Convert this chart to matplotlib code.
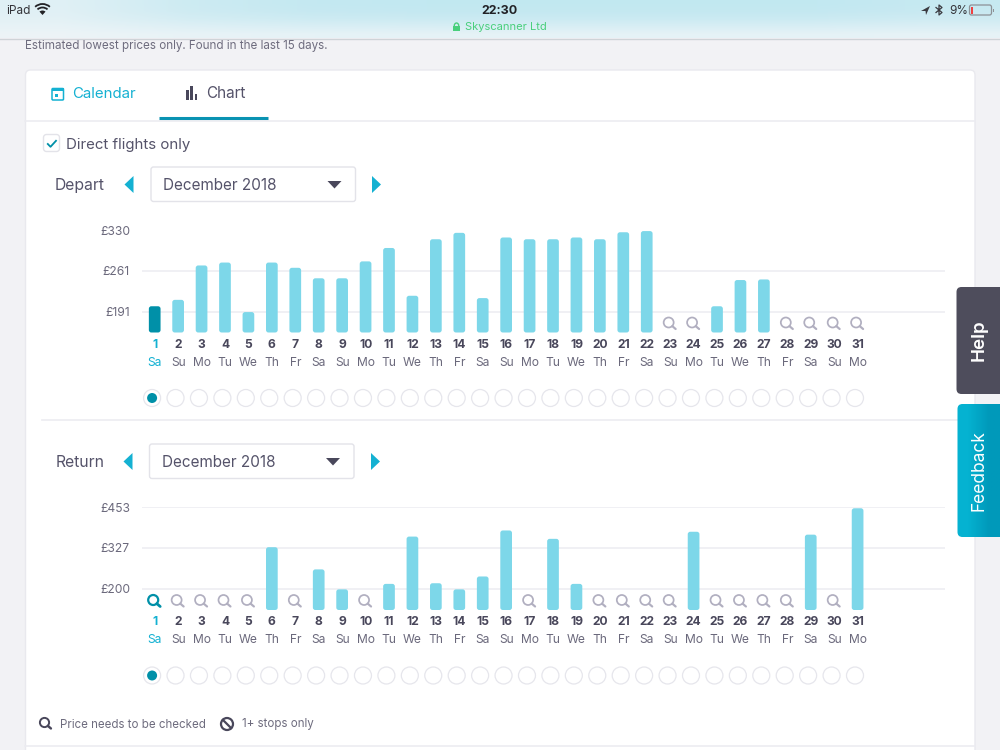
import numpy as np
import matplotlib
matplotlib.use('Agg')
import matplotlib.pyplot as plt
from matplotlib.patches import FancyBboxPatch, Circle, Arc, Polygon, Rectangle, Wedge

plt.rcParams['font.family'] = ['Inter', 'DejaVu Sans']

# --- Data ---
days = list(range(1, 32))
weekdays = ['Sa', 'Su', 'Mo', 'Tu', 'We', 'Th', 'Fr'] * 4 + ['Sa', 'Su', 'Mo']

# None means no price found, drawn as a magnifier
depart_prices = [200, 211, 270, 275, 190, 275, 266, 248, 248, 277, 300, 218, 315, 326, 214, 318,
                 315, 315, 318, 315, 327, 329, None, None, 200, 245, 246, None, None, None, None]
return_prices = [None, None, None, None, None, 329, None, 260, 198, None, 215, 362, 217, 198, 238, 381,
                 None, 355, 215, None, None, None, None, 377, None, None, None, None, 368, None, 450]

depart_ticks = [191, 261, 330]
return_ticks = [200, 327, 453]
legend_labels = ['Price needs to be checked', '1+ stops only']

# --- Colours ---
BG = '#f2f2f5'
CARD = '#ffffff'
LINE = '#ececf1'
INK = '#55536a'
DARK = '#49475b'
BAR = '#7dd7e9'
TEAL = '#0090a8'
SKY = '#14b1d2'
ICON = '#b1afc0'

fig = plt.figure(figsize=(10, 7.5), dpi=100, facecolor=BG)

# Page furniture is laid out in screen pixels on a full-size axes
ui = fig.add_axes([0, 0, 1, 1], zorder=0)
ui.set_xlim(0, 1000)
ui.set_ylim(750, 0)
ui.axis('off')


def label(x, y, s, size=10.5, color=INK, ha='left', **kw):
    ui.text(x, y + 1, s, fontsize=size, color=color, ha=ha, va='center', **kw)


def rbox(x0, y0, x1, y1, r=4, fc=CARD, ec='none', lw=1, z=1):
    box = FancyBboxPatch((x0, y0), x1 - x0, y1 - y0, boxstyle=f'round,pad=0,rounding_size={r}',
                         fc=fc, ec=ec, lw=lw, zorder=z)
    ui.add_patch(box)
    return box


def block(x0, y0, x1, y1, color, z=3):
    ui.add_patch(Rectangle((x0, y0), x1 - x0, y1 - y0, fc=color, ec='none', zorder=z))


def solid(points, color, z=3):
    ui.add_patch(Polygon(points, fc=color, ec='none', zorder=z))


def magnifier(x, y, color=ICON, lw=1.25, r=5):
    ui.add_patch(Circle((x, y), r, fc='none', ec=color, lw=lw, zorder=3))
    ui.plot([x + r * 0.72, x + r * 1.4], [y + r * 0.72, y + r * 1.3], color=color, lw=lw * 1.25,
            solid_capstyle='round', zorder=3)


# Status bar with its gradient, paler towards the left corner
centre = np.array([[0.76, 0.91, 0.945], [0.77, 0.91, 0.945], [0.80, 0.92, 0.95],
                   [0.85, 0.935, 0.96], [0.90, 0.95, 0.965]])
pale = np.array([0.94, 0.96, 0.97])
mix = np.array([0.65, 0.25, 0.05, 0.0, 0.0, 0.0, 0.0, 0.1])
band = np.stack([centre * (1 - m) + pale * m for m in mix], axis=1)
ui.imshow(band, extent=(0, 1000, 38, 0), aspect='auto', interpolation='bilinear', zorder=0)
ui.plot([0, 1000], [38.5, 38.5], color='#cfd3d7', lw=1, zorder=1)

label(6, 10, 'iPad', 8.5, '#333338')
for rad, wid in [(11, 1.3), (7.5, 1.3)]:
    ui.add_patch(Arc((42.5, 15), 2 * rad, 2 * rad, theta1=228, theta2=312, color='#222226', lw=wid, zorder=3))
ui.add_patch(Wedge((42.5, 15), 4.5, 228, 312, fc='#222226', ec='none', zorder=3))
label(500, 10, '22:30', 9, '#222226', ha='center', fontweight='bold')
label(505.5, 25.5, 'Skyscanner Ltd', 8, '#49cf7c', ha='center')
block(453, 26, 460, 31, '#49cf7c')
ui.add_patch(Arc((456.5, 26), 4.5, 6, theta1=180, theta2=360, color='#49cf7c', lw=1, zorder=3))
solid([(930, 6), (921, 11), (925.5, 11), (926, 15)], '#3a3a40')
ui.plot([936, 942, 939, 939, 942, 936], [7.5, 12.5, 15, 5, 7.5, 12.5], color='#3a3a40', lw=0.9, zorder=3)
label(949, 10, '9%', 8.5, '#333338')
rbox(969.5, 5, 991.5, 15, r=2, fc='none', ec='#8d9196', lw=0.9, z=3)
block(971, 6.5, 972.8, 13.5, '#f04040', z=4)
block(992.5, 8.5, 993.5, 11.5, '#8d9196')

label(25, 45.5, 'Estimated lowest prices only. Found in the last 15 days.', 8.4, '#6e6c7e')

# Card
rbox(25.5, 70, 975, 790, r=5, fc=CARD, ec='#e9e9ee', lw=1, z=1)
ui.plot([25, 975], [120.5, 120.5], color=LINE, lw=1.2, zorder=2)
ui.plot([159, 268], [118, 118], color='#0a93b2', lw=2.2, solid_capstyle='butt', zorder=3)

# Tabs
rbox(52, 88.5, 63.5, 100, r=1, fc='none', ec=SKY, lw=1.1, z=3)
block(51.5, 88, 64, 91, SKY)
block(54.5, 93.5, 57.5, 96.5, SKY)
label(72, 93, 'Calendar', 10.8, SKY)
for x0, x1, top in [(185.5, 188.5, 90), (190, 193, 86), (194.7, 197.3, 94)]:
    block(x0, top, x1, 100, DARK)
label(206, 93, 'Chart', 11, INK)

# Direct flights checkbox
rbox(43.5, 134.5, 59.5, 151.5, r=3, fc=CARD, ec='#e3e3e9', lw=1, z=3)
ui.plot([47.8, 50.5, 56], [144, 146.8, 140.8], color=TEAL, lw=1.3, zorder=4)
label(66, 143.5, 'Direct flights only', 10.8, INK)


def month_picker(name, name_x, y, left_x, box_x0, box_x1, right_x):
    label(name_x, y, name, 11.3, INK)
    solid([(left_x + 9, y - 8.5), (left_x, y), (left_x + 9, y + 8.5)], SKY)
    solid([(right_x, y - 8.5), (right_x + 9, y), (right_x, y + 8.5)], SKY)
    rbox(box_x0, y - 17.5, box_x1, y + 17, r=2.5, fc=CARD, ec='#e3e3e9', lw=1, z=3)
    label(box_x0 + 12, y, 'December 2018', 11, INK, zorder=4)
    tx = box_x1 - 21
    solid([(tx - 7, y - 3.5), (tx + 7, y - 3.5), (tx, y + 4)], DARK, z=4)


month_picker('Depart', 55, 184.5, 124.5, 151, 355.5, 372)
month_picker('Return', 56, 461.5, 123.5, 149.5, 354, 371)
ui.plot([42, 958], [420, 420], color=LINE, lw=1.2, zorder=2)

# Legend row
magnifier(44.5, 722.5, color=DARK, lw=1.4, r=4.6)
label(60, 723.5, legend_labels[0], 8.3, '#6e6c7e')
ui.add_patch(Circle((227, 724), 6, fc='none', ec=DARK, lw=1.6, zorder=3))
ui.plot([223, 231], [720, 728], color=DARK, lw=1.6, zorder=3)
label(242, 723.5, legend_labels[1], 8.3, '#6e6c7e')
ui.plot([25, 975], [745.5, 745.5], color=LINE, lw=1.2, zorder=2)

# Side tabs
rbox(956.5, 287, 1010, 394, r=5, fc='#4e4d5c', z=5)
ui.text(979, 340.5, 'Help', fontsize=13.5, color='white', fontweight='semibold', rotation=90,
        ha='center', va='center', zorder=6)
feedback = rbox(957.5, 404, 1010, 537, r=5, fc='none', z=5)
shade = ui.imshow(np.array([[[0.02, 0.70, 0.82], [0.0, 0.60, 0.73]]]), extent=(957, 1000, 537, 404),
                  aspect='auto', interpolation='bilinear', zorder=5)
shade.set_clip_path(feedback)
ui.text(979, 470.5, 'Feedback', fontsize=12.5, color='white', rotation=90, ha='center', va='center', zorder=6)

# imshow resets the limits
ui.set_xlim(0, 1000)
ui.set_ylim(750, 0)


def price_chart(prices, ticks, top_px, step_px, base_px):
    """Bars for one month, with day labels, magnifiers and selector dots."""
    x0_px, x1_px = 141.7, 945
    first_px, gap_px = 154.7, 23.43
    ax = fig.add_axes([x0_px / 1000, 1 - base_px / 750, (x1_px - x0_px) / 1000, (base_px - top_px) / 750], zorder=2)
    ax.patch.set_alpha(0)
    ax.set_xlim(1 + (x0_px - first_px) / gap_px, 1 + (x1_px - first_px) / gap_px)
    per_px = (ticks[2] - ticks[0]) / (step_px * 2)
    ax.set_ylim(ticks[2] - (base_px - top_px) * per_px, ticks[2])
    base = ax.get_ylim()[0]

    for side in ax.spines.values():
        side.set_visible(False)
    ax.set_yticks(ticks, [f'£{t}' for t in ticks], fontsize=8.7, color='#6b697c')
    ax.set_xticks([])
    ax.tick_params(axis='y', length=0, pad=8.5)
    ax.grid(axis='y', color=LINE, lw=1.1)
    ax.set_axisbelow(True)

    width = 11.7 / gap_px
    for day, price in zip(days, prices):
        if price is None:
            continue
        color = TEAL if (day == 1) else BAR
        ax.add_patch(FancyBboxPatch((day - width / 2, base), width, price - base,
                                    boxstyle=f'round,pad=0,rounding_size={2.5 / gap_px}',
                                    mutation_aspect=per_px * gap_px,
                                    fc=color, ec='none', clip_on=False, zorder=3))

    for day, name, price in zip(days, weekdays, prices):
        px = ax.transData.transform((day, base))[0]
        selected = day == 1
        label(px, base_px + 11, str(day), 8.7, SKY if selected else DARK, ha='center', fontweight='bold')
        label(px, base_px + 29, name, 8.7, SKY if selected else '#6b697c', ha='center')
        if price is None:
            magnifier(px - 1.5, base_px - 10, color=TEAL if selected else ICON, lw=1.6 if selected else 1.25)
        ui.add_patch(Circle((px - 2.6, base_px + 65.5), 8.5, fc=CARD, ec='#e6e6ec', lw=0.9, zorder=3))
        if selected:
            ui.add_patch(Circle((px - 2.6, base_px + 65.5), 5, fc=TEAL, ec='none', zorder=4))
    return ax


depart_ax = price_chart(depart_prices, depart_ticks, 230.5, 40.5, 332.5)
return_ax = price_chart(return_prices, return_ticks, 507.3, 40.7, 610)

fig.savefig('out.png', dpi=100, facecolor=BG)
